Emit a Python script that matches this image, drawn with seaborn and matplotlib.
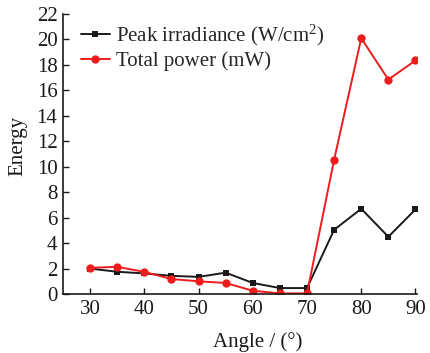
import matplotlib
matplotlib.use("Agg")
import matplotlib.pyplot as plt
import seaborn as sns
import pandas as pd

angles = [30, 35, 40, 45, 50, 55, 60, 65, 70, 75, 80, 85, 90]
peak_irradiance = [2.0, 1.75, 1.62, 1.43, 1.35, 1.68, 0.87, 0.47, 0.47, 5.05, 6.7, 4.5, 6.65]
total_power = [2.06, 2.14, 1.74, 1.18, 1.0, 0.87, 0.26, 0.05, 0.05, 10.55, 20.1, 16.85, 18.35]
series_names = ["Peak irradiance (W/cm$^{2}$)", "Total power (mW)"]
y_ticks = [0, 2, 4, 6, 8, 10, 12, 14, 16, 18, 20, 22]
x_ticks = [30, 40, 50, 60, 70, 80, 90]

sns.set_theme(style="ticks")
plt.rcParams["font.family"] = ["Liberation Serif", "DejaVu Serif"]
plt.rcParams["mathtext.default"] = "regular"

df = pd.DataFrame({
    "Angle": angles * 2,
    "Energy": peak_irradiance + total_power,
    "Series": [series_names[0]] * len(angles) + [series_names[1]] * len(angles),
})

fig = plt.figure(figsize=(4.3, 3.53), dpi=100)
ax = fig.add_axes([0.1465, 0.167, 0.8235, 0.7933])

sns.lineplot(data=df, x="Angle", y="Energy", hue="Series", style="Series",
             palette=["#1a1a1a", "#ee1c1c"], markers=["s", "o"], dashes=False,
             markersize=5, markeredgewidth=0, linewidth=1.4, ax=ax)
lines = ax.get_lines()
lines[0].set_markersize(5.0)
lines[1].set_markersize(6.0)

ax.set_xlim(25, 90.3)
ax.set_ylim(0, 22)
ax.set_xticks(x_ticks)
ax.set_yticks(y_ticks)
ax.tick_params(direction="in", length=4, width=1, labelsize=15, colors="#1a1a1a", pad=4)
for s in ["top", "right"]:
    ax.spines[s].set_visible(False)
for s in ["left", "bottom"]:
    ax.spines[s].set_linewidth(1.2)
    ax.spines[s].set_color("#1a1a1a")
ax.set_xlabel("Angle / (°)", fontsize=15, color="#1a1a1a")
ax.set_ylabel("Energy", fontsize=15, color="#1a1a1a")
ax.xaxis.set_label_coords(0.55, -0.135)
ax.yaxis.set_label_coords(-0.10, 0.53)

leg = ax.legend(title=None, frameon=False, loc="upper left", bbox_to_anchor=(0.05, 0.967),
                borderaxespad=0, borderpad=0,
                fontsize=15, handlelength=1.4, handletextpad=0.3, labelspacing=0.15)
for h, ms in zip(leg.legend_handles, [5.0, 6.0]):
    h.set_markersize(ms)

fig.savefig("out.png", dpi=100)
